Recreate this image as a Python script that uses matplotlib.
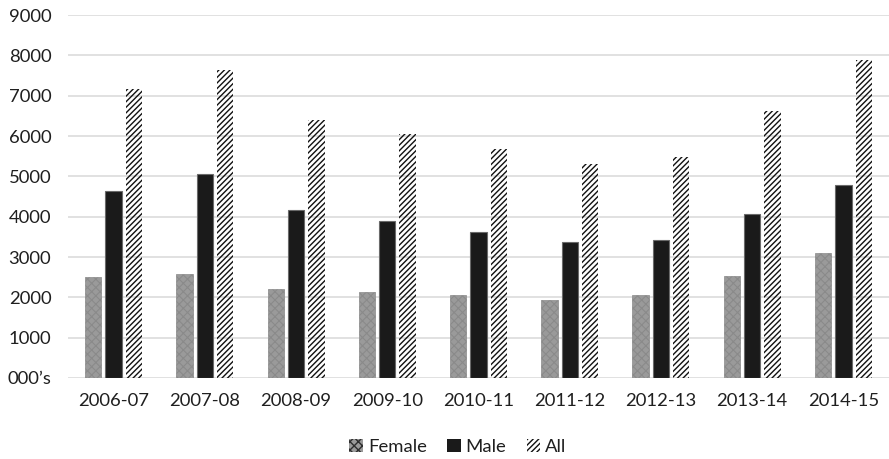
import matplotlib
matplotlib.use("Agg")
import matplotlib.pyplot as plt
import numpy as np
from matplotlib.patches import Patch

years = ["2006-07", "2007-08", "2008-09", "2009-10", "2010-11",
         "2011-12", "2012-13", "2013-14", "2014-15"]
female = [2500, 2580, 2210, 2140, 2060, 1930, 2060, 2530, 3100]
male = [4650, 5050, 4170, 3885, 3620, 3365, 3420, 4065, 4785]
all_ = [7160, 7635, 6395, 6050, 5670, 5305, 5470, 6620, 7885]
yticks = [0, 1000, 2000, 3000, 4000, 5000, 6000, 7000, 8000, 9000]
ytick_labels = ["000\u2019s"] + [str(v) for v in yticks[1:]]

plt.rcParams["font.family"] = ["Lato", "DejaVu Sans"]

fig = plt.figure(figsize=(8.89, 4.59), dpi=100)
ax = fig.add_axes([0.0765, 0.1765, 0.9235, 0.7905])

x = np.arange(len(years))
w = 0.179
off = 0.223

FEMALE_FACE = "#9a9a9a"
FEMALE_HATCH = "xxxx"
ALL_HATCH = "//////"

with plt.rc_context({"hatch.linewidth": 0.8, "hatch.color": "#2e2e2e"}):
    ax.bar(x - off, female, w, facecolor=FEMALE_FACE, edgecolor="#8a8a8a",
           hatch=FEMALE_HATCH, linewidth=0.5, zorder=2)
ax.bar(x, male, w, facecolor="#1a1a1a", edgecolor="#6a6a6a",
       linewidth=0.8, zorder=2)
with plt.rc_context({"hatch.linewidth": 1.0, "hatch.color": "#111111"}):
    ax.bar(x + off, all_, w, facecolor="none", edgecolor="#111111",
           hatch=ALL_HATCH, linewidth=0, zorder=2)

ax.set_xlim(-0.5, len(years) - 0.5)
ax.set_ylim(0, 9000)
ax.set_yticks(yticks)
ax.set_yticklabels(ytick_labels)
ax.set_xticks(x)
ax.set_xticklabels(years)
ax.yaxis.grid(True, color="#d9d9d9", linewidth=1.1, zorder=0)
ax.set_axisbelow(True)
for s in ax.spines.values():
    s.set_visible(False)
ax.tick_params(axis="both", length=0, labelsize=13.3, colors="#1f1f1f")
ax.tick_params(axis="x", pad=11)
ax.tick_params(axis="y", pad=12)

with plt.rc_context({"hatch.linewidth": 0.9}):
    handles = [
        Patch(facecolor=FEMALE_FACE, edgecolor="#2e2e2e", hatch=FEMALE_HATCH,
              linewidth=0),
        Patch(facecolor="#1a1a1a", edgecolor="#1a1a1a", linewidth=0),
        Patch(facecolor="white", edgecolor="#111111", hatch=ALL_HATCH,
              linewidth=0),
    ]
fig.legend(handles, ["Female", "Male", "All"], loc="center",
           bbox_to_anchor=(0.515, 0.027), ncol=3, frameon=False,
           fontsize=13.3, handlelength=0.75, handleheight=0.75,
           handletextpad=0.25, columnspacing=1.1, labelcolor="#1f1f1f")

fig.savefig("out.png", dpi=100)
